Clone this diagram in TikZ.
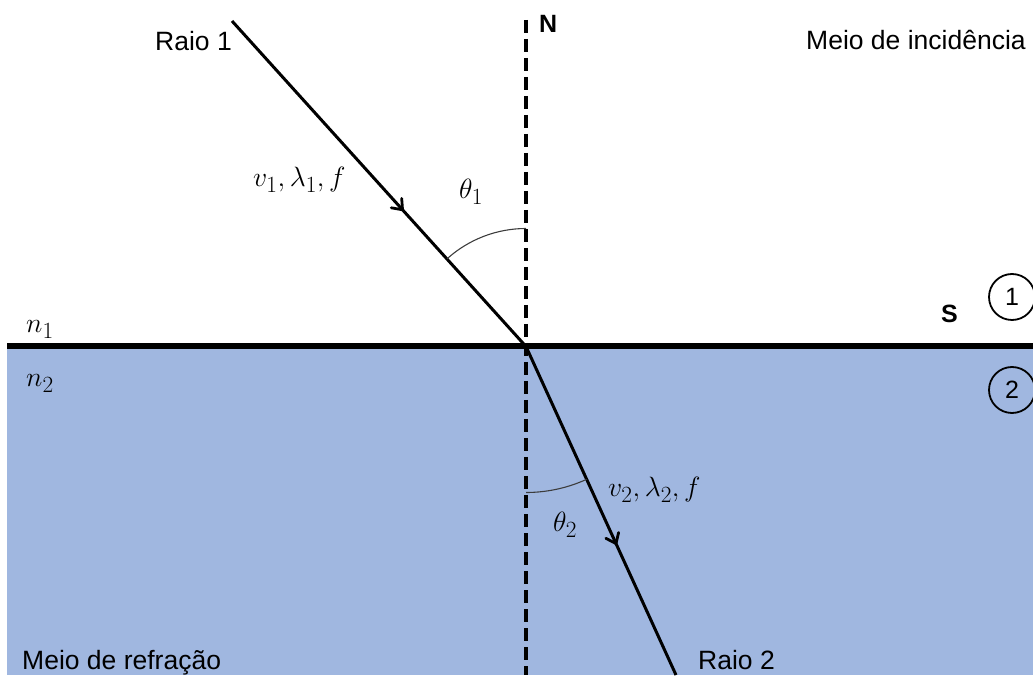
\documentclass[tikz,border=0pt]{standalone}
\usepackage{fontspec}
\setmainfont{Liberation Sans}
\usetikzlibrary{arrows.meta,decorations.markings}
\definecolor{medium}{RGB}{160,183,224}
\definecolor{arcgray}{RGB}{60,60,60}
\tikzset{
  lbl/.style={inner sep=0pt,font=\fontsize{26.5}{30}\selectfont},
  blbl/.style={inner sep=0pt,font=\fontsize{25}{30}\selectfont\bfseries},
  mlbl/.style={inner sep=0pt,font=\fontsize{24.88}{28}\selectfont,scale=1.12},
  ray/.style={line width=3pt},
  normalline/.style={line width=3.2pt,dash pattern=on 13pt off 6pt},
  surface/.style={line width=6pt},
  anglearc/.style={line width=1.1pt,arcgray},
  midarrow/.style={postaction={decorate},decoration={markings,
    mark=at position #1 with {\draw[line width=2.8pt,line cap=round,line join=miter] (-9pt,7pt) -- (0pt,0pt) -- (-9pt,-7pt);}}},
  mcircle/.style={circle,draw,line width=1.8pt,minimum size=46pt,inner sep=0pt,font=\fontsize{25}{28}\selectfont}
}
\begin{document}
\begin{tikzpicture}[x=1pt,y=1pt]
\useasboundingbox (0,0) rectangle (1033,675);
% media
\fill[medium] (7,0) rectangle (1033,328.5);
\coordinate (SL) at (7,328.5);
\coordinate (SR) at (1033,328.5);
\coordinate (O) at (526,328.5);
\coordinate (Ntop) at (526,655);
\coordinate (Nbot) at (526,0);
\coordinate (R1) at (232,654);
\coordinate (R2) at (676,0);
% normal
\draw[normalline] (Ntop) -- (Nbot);
% surface
\draw[surface] (SL) -- (SR);
% rays
\draw[ray,midarrow=0.58] (R1) -- (O);
\draw[ray,midarrow=0.6] (O) -- (R2);
% angle arcs
\draw[anglearc] ([shift={(90:118)}]O) arc[start angle=90,end angle=132,radius=118];
\draw[anglearc] ([shift={(270:146)}]O) arc[start angle=270,end angle=294.5,radius=146];
% labels
\node[lbl,anchor=base west] (raio1) at (155,624) {Raio 1};
\node[lbl,anchor=base west] (incid) at (806,625) {Meio de incidência};
\node[lbl,anchor=base west] (refr) at (22,6) {Meio de refração};
\node[lbl,anchor=base west] (raio2) at (698,6) {Raio 2};
\node[blbl,anchor=base west] (N) at (539,642) {N};
\node[blbl,anchor=base west] (S) at (941,352) {S};
\node[mlbl,anchor=base west] (n1) at (26,342) {$n_1$};
\node[mlbl,anchor=base west] (n2) at (26,288) {$n_2$};
\node[mlbl] (th1) at (471,483) {$\theta_1$};
\node[mlbl] (th2) at (565,150) {$\theta_2$};
\node[mlbl,anchor=base west] (v1) at (253,488) {$v_1,\lambda_1,f$};
\node[mlbl,anchor=base west] (v2) at (608,178) {$v_2,\lambda_2,f$};
\node[mcircle] (c1) at (1012,378) {1};
\node[mcircle] (c2) at (1012,285) {2};
\end{tikzpicture}
\end{document}
